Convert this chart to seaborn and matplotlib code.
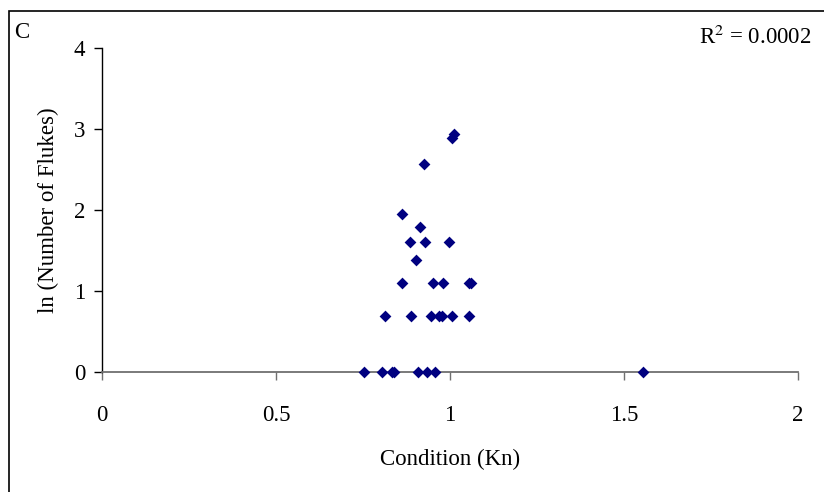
import numpy as np
import pandas as pd
import matplotlib
matplotlib.use("Agg")
import matplotlib.pyplot as plt
import seaborn as sns
from matplotlib.patches import Rectangle

# Data
condition_kn = [1.011, 1.006, 0.926, 0.861, 0.914, 0.885, 0.928, 0.996,
                0.903,
                0.861, 0.952, 0.979, 1.055, 1.060,
                0.814, 0.888, 0.946, 0.968, 0.978, 1.007, 1.056,
                0.752, 0.806, 0.833, 0.840, 0.908, 0.933, 0.957, 1.556]
ln_flukes = [2.944, 2.890, 2.565, 1.946, 1.792, 1.609, 1.609, 1.609,
             1.386,
             1.099, 1.099, 1.099, 1.099, 1.099,
             0.693, 0.693, 0.693, 0.693, 0.693, 0.693, 0.693,
             0.0, 0.0, 0.0, 0.0, 0.0, 0.0, 0.0, 0.0]
x_ticks = [0, 0.5, 1, 1.5, 2]
x_ticklabels = ["0", "0.5", "1", "1.5", "2"]
y_ticks = [0, 1, 2, 3, 4]
y_ticklabels = ["0", "1", "2", "3", "4"]

df = pd.DataFrame({"Condition (Kn)": condition_kn, "ln (Number of Flukes)": ln_flukes})

sns.set_theme(style="white")
plt.rcParams["font.family"] = ["Liberation Serif", "DejaVu Serif"]
plt.rcParams["text.color"] = "black"
plt.rcParams["axes.labelcolor"] = "black"
plt.rcParams["xtick.color"] = "black"
plt.rcParams["ytick.color"] = "black"

FS = 16.5

fig = plt.figure(figsize=(8.24, 4.92), dpi=100)
ax = fig.add_axes([102/824, 1-372/492, (798-102)/824, (372-48)/492])

sns.scatterplot(data=df, x="Condition (Kn)", y="ln (Number of Flukes)", ax=ax,
                marker="D", s=36, color="#000080", linewidth=0, zorder=3, clip_on=False)

ax.set_xlim(0, 2)
ax.set_ylim(0, 4)
ax.set_xticks(x_ticks)
ax.set_xticklabels(x_ticklabels)
ax.set_yticks(y_ticks)
ax.set_yticklabels(y_ticklabels)

for s in ["top", "right"]:
    ax.spines[s].set_visible(False)
ax.spines["left"].set_color("black")
ax.spines["left"].set_linewidth(1.0)
ax.spines["bottom"].set_color("#707070")
ax.spines["bottom"].set_linewidth(1.3)

ax.tick_params(axis="x", direction="out", length=6, width=1, color="#707070",
               labelcolor="black", labelsize=FS, pad=18, bottom=True)
ax.tick_params(axis="y", direction="out", length=6, width=1, color="black",
               labelcolor="black", labelsize=FS, pad=6, left=True)
ax.set_xlabel("Condition (Kn)", fontsize=FS, labelpad=16)
ax.set_ylabel("ln (Number of Flukes)", fontsize=FS, labelpad=11)

fig.text(14/824, 1-32/492, "C", fontsize=FS, ha="left", va="center")
fig.text(812/824, 1-37/492, r"R$^{2}$ = 0.0002", fontsize=FS, ha="right", va="center",
         math_fontfamily="stix")

fig.patches.append(Rectangle((9/824, -0.05), 1.0, 1-11/492+0.05, transform=fig.transFigure,
                             fill=False, edgecolor="black", linewidth=1.2))

fig.savefig("out.png", dpi=100)
